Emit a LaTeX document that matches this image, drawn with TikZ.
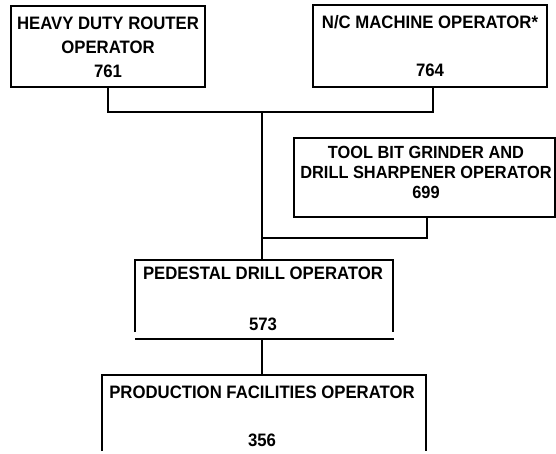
\documentclass[tikz,border=0pt]{standalone}
\usepackage{fontspec}
\setmainfont{Liberation Sans}[FakeStretch=0.93]
\begin{document}
\begin{tikzpicture}[x=1pt,y=-1pt,
  box/.style={draw,line width=1.9pt,inner sep=0pt,anchor=center},
  txt/.style={align=center,inner sep=0pt,font=\fontsize{18}{24}\selectfont\bfseries},
  wire/.style={line width=1.9pt}]
\useasboundingbox (0,0) rectangle (556,454);
% boxes
\node[box,minimum width=194pt,minimum height=81pt] (b1) at (108,46.5) {};
\node[txt] (t1) at (108,47.5) {HEAVY DUTY ROUTER\\OPERATOR\\761};
\node[box,minimum width=234pt,minimum height=82pt] (b2) at (430,46) {};
\node[txt] (t2) at (430,46) {N/C MACHINE OPERATOR*\\[24pt]764};
\node[box,minimum width=261pt,minimum height=79pt] (b3) at (424.5,177.5) {};
\node[txt,font=\fontsize{17.6}{20}\selectfont\bfseries] (t3) at (426,172) {TOOL BIT GRINDER AND\\DRILL SHARPENER OPERATOR\\699};
% pedestal box (open sides)
\coordinate (pTL) at (135,260);
\coordinate (pTR) at (393,260);
\node[txt] (t4) at (263,298.5) {PEDESTAL DRILL OPERATOR\\[27pt]573};
\draw[wire] (135,332) -- (pTL) -- (pTR) -- (393,332);
\coordinate (pBL) at (135,339);
\coordinate (pBR) at (394,339);
\coordinate (pB) at (262,339);
\draw[line width=2.6pt] (pBL) -- (pBR);
% production box (open bottom)
\coordinate (qTL) at (102,375);
\coordinate (qTR) at (426,375);
\coordinate (qT) at (262,375);
\node[txt] (t5) at (262,416) {PRODUCTION FACILITIES OPERATOR\\[24pt]356};
\draw[wire] (102,451) -- (qTL) -- (qTR) -- (426,451);
% junctions
\coordinate (j1) at (262,112);
\coordinate (j2) at (262,238);
\coordinate (pT) at (262,260);
% connectors
\draw[wire] (b1.south) |- (j1) -| ([xshift=3pt]b2.south);
\draw[wire] (j1) -- (pT);
\draw[wire] ([xshift=2.5pt]b3.south) |- (j2);
\draw[wire] (pB) -- (qT);
\end{tikzpicture}
\end{document}
